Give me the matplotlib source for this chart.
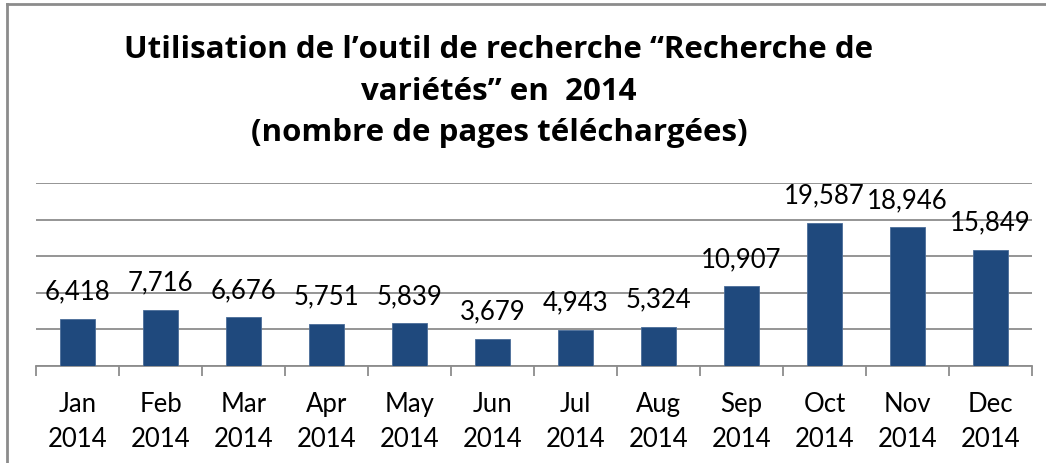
import matplotlib
matplotlib.use("Agg")
import matplotlib.pyplot as plt
from matplotlib.lines import Line2D

months = ["Jan\n2014", "Feb\n2014", "Mar\n2014", "Apr\n2014", "May\n2014", "Jun\n2014",
          "Jul\n2014", "Aug\n2014", "Sep\n2014", "Oct\n2014", "Nov\n2014", "Dec\n2014"]
pages = [6418, 7716, 6676, 5751, 5839, 3679, 4943, 5324, 10907, 19587, 18946, 15849]
title = "Utilisation de l\u2019outil de recherche \u201cRecherche de\nvari\u00e9t\u00e9s\u201d en  2014\n(nombre de pages t\u00e9l\u00e9charg\u00e9es)"

plt.rcParams['font.family'] = ['Lato', 'DejaVu Sans']

fig = plt.figure(figsize=(10.46, 4.64), dpi=100)
ax = fig.add_axes([36/1046, (464-367)/464, (1032-36)/1046, (367-184)/464])

x = list(range(len(pages)))
bars = ax.bar(x, pages, width=0.41, color="#1F497D", edgecolor="#4a6d99", linewidth=0.6, zorder=3)

ax.set_xlim(-0.5, 11.5)
ax.set_ylim(0, 25000)
ax.set_yticks([0, 5000, 10000, 15000, 20000, 25000])
ax.set_yticklabels([])
ax.tick_params(axis='y', length=0)
ax.grid(axis='y', color="#8c8c8c", linewidth=1.3, zorder=0)
for s in ["top", "right", "left"]:
    ax.spines[s].set_visible(False)
ax.spines["bottom"].set_color("#8c8c8c")
ax.spines["bottom"].set_linewidth(1.3)

ax.set_xticks(x)
ax.set_xticklabels(months, fontsize=18.5, linespacing=1.5)
ax.tick_params(axis='x', length=0, pad=18)
ax.set_xticks([i - 0.5 for i in range(13)], minor=True)
ax.tick_params(axis='x', which='minor', length=7, width=1.3, color="#8c8c8c")

for xi, v in zip(x, pages):
    ax.annotate(f"{v:,}", (xi, v), xytext=(0, 11), textcoords="offset points",
                ha="center", va="bottom", fontsize=18.5)

fig.text(0.477, 1 - 92/464, title, ha="center", va="center", fontsize=22.5,
         fontweight="bold", linespacing=1.5, family=['Open Sans', 'DejaVu Sans'])

fig.add_artist(Line2D([7/1046, 7/1046], [0, 1 - 5/464], color="#8c8c8c", linewidth=2, transform=fig.transFigure))
fig.add_artist(Line2D([7/1046, 1], [1 - 5/464, 1 - 5/464], color="#8c8c8c", linewidth=2, transform=fig.transFigure))

fig.savefig("out.png", dpi=100)
